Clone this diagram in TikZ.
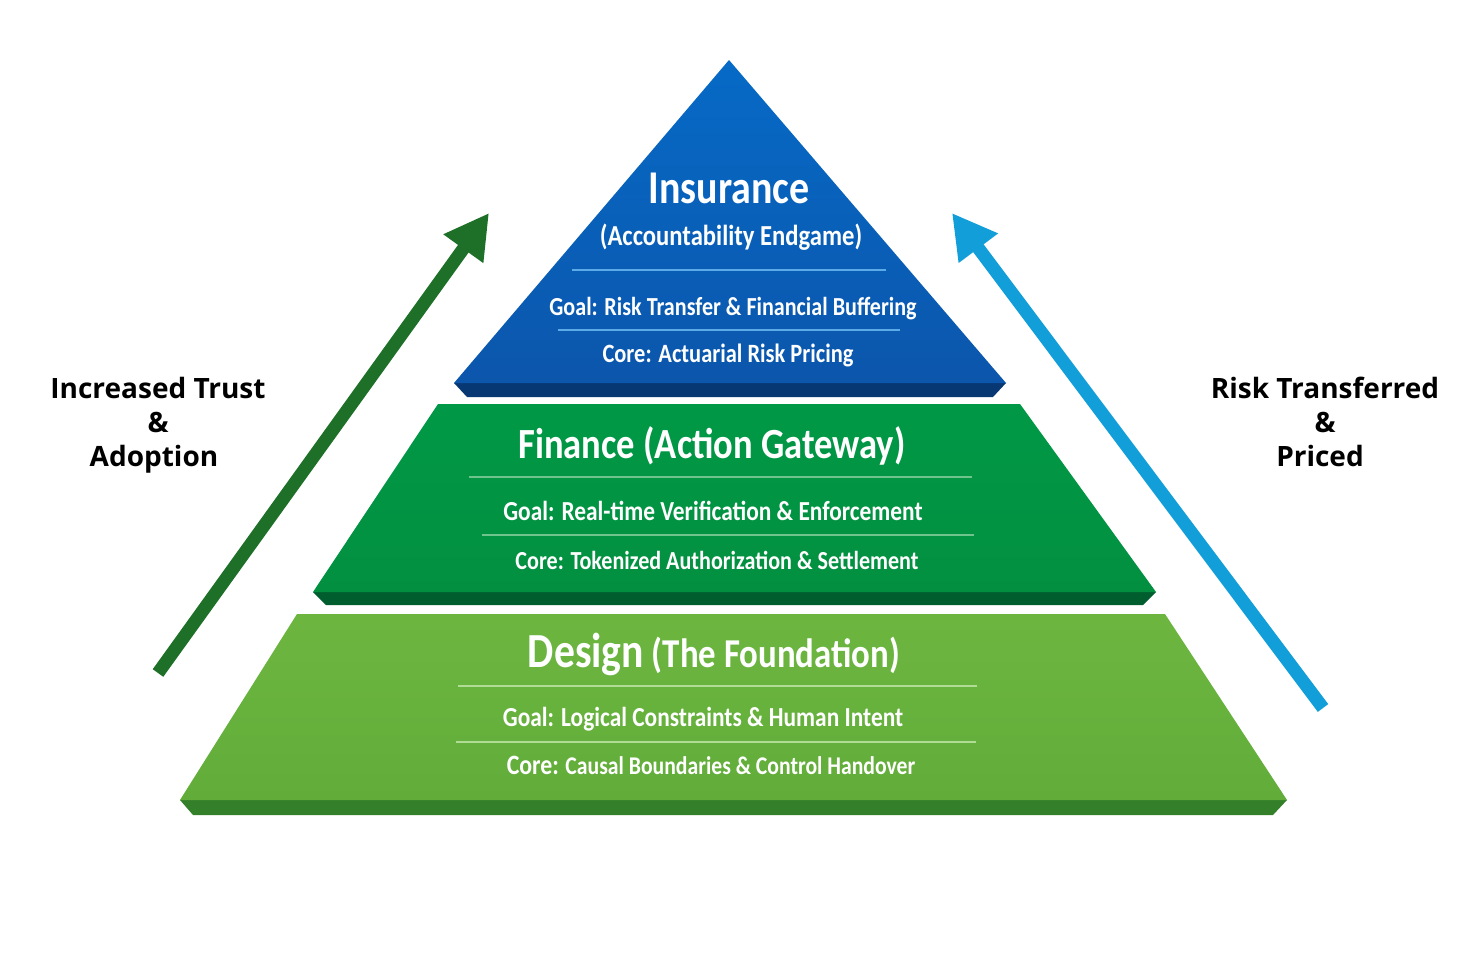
\documentclass[tikz,border=0pt]{standalone}
\usepackage{fontspec}
\setmainfont{Open Sans}
\newfontfamily\cond[FakeStretch=0.85]{Carlito}
\usetikzlibrary{arrows.meta}
\definecolor{bluetop}{RGB}{6,106,198}
\definecolor{bluebot}{RGB}{12,86,172}
\definecolor{blueslab}{RGB}{8,56,116}
\definecolor{bluesep}{RGB}{92,170,232}
\definecolor{midgreen}{RGB}{0,152,70}
\definecolor{midgreenb}{RGB}{2,144,64}
\definecolor{midslab}{RGB}{0,94,46}
\definecolor{midsep}{RGB}{110,196,140}
\definecolor{lowgreen}{RGB}{108,182,64}
\definecolor{lowgreenb}{RGB}{98,172,58}
\definecolor{lowslab}{RGB}{52,128,42}
\definecolor{lowsep}{RGB}{176,220,150}
\definecolor{arrgreen}{RGB}{30,112,40}
\definecolor{arrblue}{RGB}{18,159,217}
\tikzset{
  tiertext/.style={text=white, anchor=base, inner sep=0pt, font=\cond\bfseries},
  sidetext/.style={text=black, anchor=base, inner sep=0pt, font=\bfseries\fontsize{28}{34}\selectfont, align=center},
  sepline/.style={line width=1.6pt},
  bigarrow/.style={line width=13pt, -{Triangle[length=44pt,width=46pt]}}
}
\begin{document}
\begin{tikzpicture}[x=1pt,y=-1pt]
\useasboundingbox[fill=white] (0,0) rectangle (1460,972);
% ---- bottom tier
\fill[lowslab] (180,800) -- (193,815) -- (1273,815) -- (1287,800) -- cycle;
\shade[top color=lowgreen,bottom color=lowgreenb] (297,614) -- (180,800) -- (1287,800) -- (1165,614) -- cycle;
% ---- middle tier
\fill[midslab] (313,592) -- (326,605) -- (1143,605) -- (1156,592) -- cycle;
\shade[top color=midgreen,bottom color=midgreenb] (438,404) -- (313,592) -- (1156,592) -- (1020,404) -- cycle;
% ---- top tier
\fill[blueslab] (454,383) -- (467,397) -- (993,397) -- (1006,383) -- cycle;
\shade[top color=bluetop,bottom color=bluebot] (729,60) -- (454,383) -- (1006,383) -- cycle;

% ---- top texts
\node[tiertext, font=\cond\bfseries\fontsize{47}{47}\selectfont] (ins) at (729,203) {Insurance};
\node[tiertext, font=\cond\bfseries\fontsize{29}{29}\selectfont] (insb) at (731,245) {(Accountability Endgame)};
\draw[sepline, bluesep] (572,270) -- (886,270);
\node[tiertext, font=\cond\bfseries\fontsize{26}{26}\selectfont] (insg) at (733,315) {Goal: Risk Transfer \& Financial Buffering};
\draw[sepline, bluesep] (558,330) -- (900,330);
\node[tiertext, font=\cond\bfseries\fontsize{26.4}{26}\selectfont] (insc) at (728,362) {Core: Actuarial Risk Pricing};

% ---- middle texts
\node[tiertext, font=\cond\bfseries\fontsize{43}{43}\selectfont] (fin) at (712,458) {Finance (Action Gateway)};
\draw[sepline, midsep] (469,477) -- (972,477);
\node[tiertext, font=\cond\bfseries\fontsize{27.5}{27}\selectfont] (fing) at (713,520) {Goal: Real-time Verification \& Enforcement};
\draw[sepline, midsep] (482,535) -- (974,535);
\node[tiertext, font=\cond\bfseries\fontsize{26}{26}\selectfont] (finc) at (717,569) {Core: Tokenized Authorization \& Settlement};

% ---- bottom texts
\node[tiertext, font=\cond\bfseries\fontsize{41}{41}\selectfont] (des) at (714,667) {{\fontsize{49}{49}\selectfont Design} (The Foundation)};
\draw[sepline, lowsep] (458,686) -- (977,686);
\node[tiertext, font=\cond\bfseries\fontsize{27.5}{27}\selectfont] (desg) at (703,726) {Goal: Logical Constraints \& Human Intent};
\draw[sepline, lowsep] (456,742) -- (976,742);
\node[tiertext, font=\cond\bfseries\fontsize{25.5}{25}\selectfont] (desc) at (711,774) {{\fontsize{28}{28}\selectfont Core:} Causal Boundaries \& Control Handover};

% ---- side labels
\node[sidetext] (left) at (158,398) {Increased Trust};
\node[sidetext] (leftamp) at (158,432) {\&};
\node[sidetext] (leftb) at (154,466) {Adoption};
\node[sidetext] (right) at (1325,398) {Risk Transferred};
\node[sidetext] (rightamp) at (1325,432) {\&};
\node[sidetext] (rightb) at (1320,466) {Priced};

% ---- arrows
\coordinate (lt) at (158,673);
\coordinate (lh) at (489,213);
\coordinate (rt) at (1323,708);
\coordinate (rh) at (952,213);
\draw[bigarrow, arrgreen] (lt) -- (lh);
\draw[bigarrow, arrblue] (rt) -- (rh);
\end{tikzpicture}
\end{document}
